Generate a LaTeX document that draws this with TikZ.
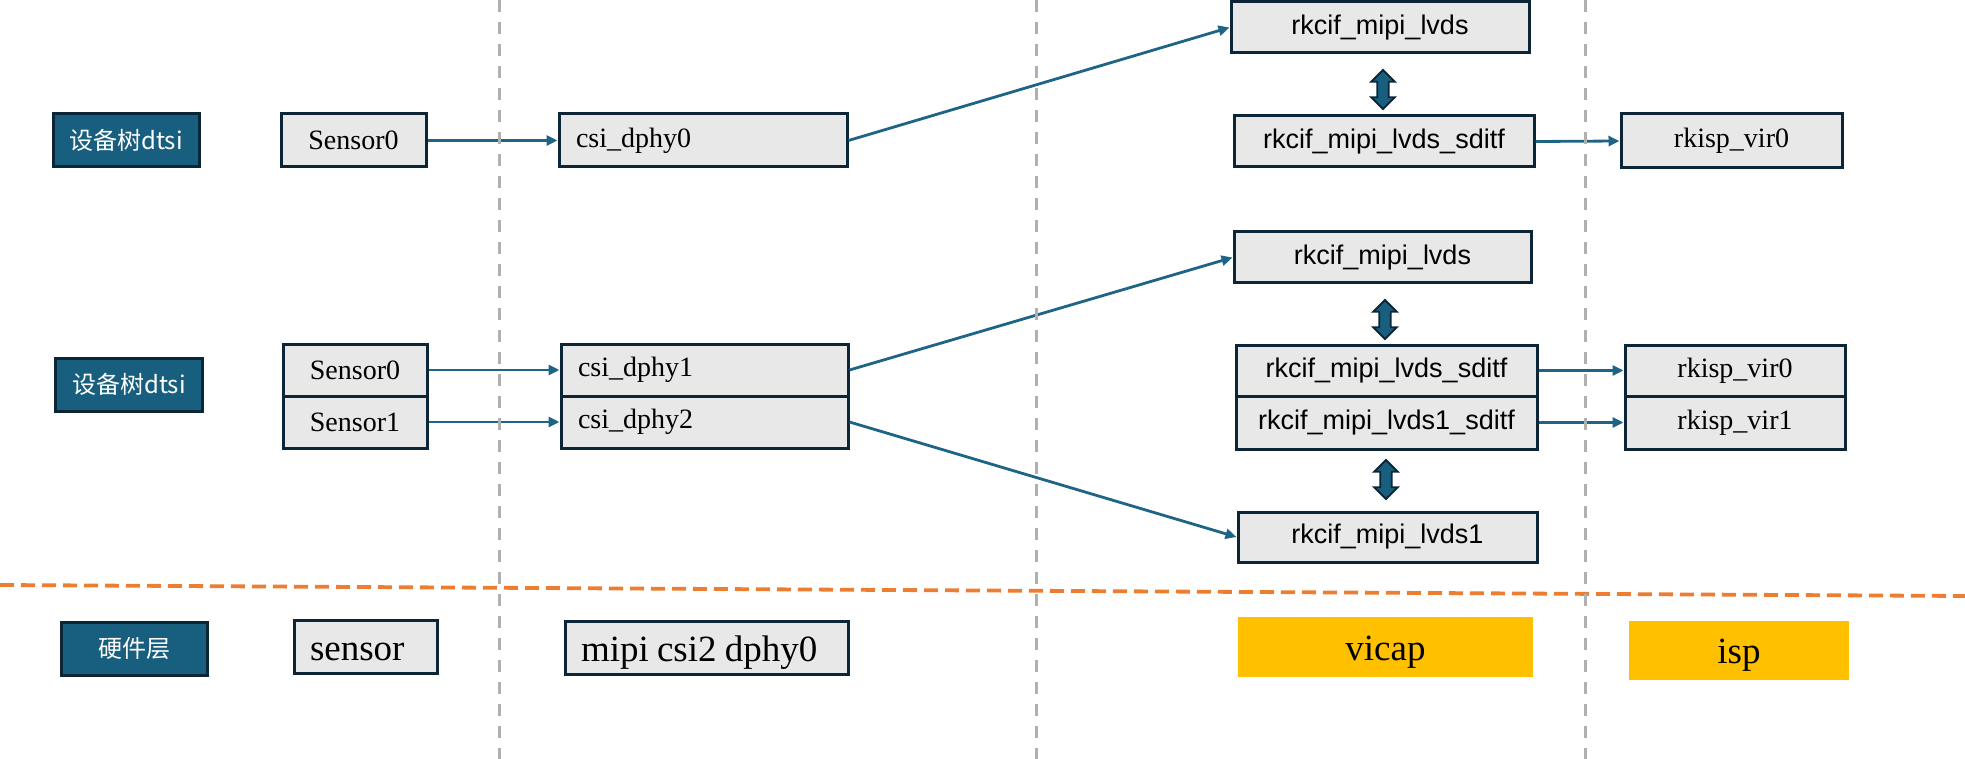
\documentclass[tikz,border=0pt]{standalone}
\usepackage{fontspec}
\setmainfont{Liberation Serif}
\newfontfamily\sansf{Liberation Sans}
\newfontfamily\cjkf{Noto Sans CJK SC}
\usetikzlibrary{arrows.meta}
\definecolor{blu}{RGB}{24,94,126}
\definecolor{bordc}{RGB}{12,38,56}
\definecolor{boxg}{RGB}{232,232,232}
\definecolor{arr}{RGB}{30,100,135}
\definecolor{orng}{RGB}{237,125,49}
\definecolor{yel}{RGB}{255,192,0}
\definecolor{gdash}{RGB}{176,176,176}
\newcommand{\lowtxt}[1]{\raisebox{-2.5pt}[\height][\depth]{#1}}
\begin{document}
\begin{tikzpicture}[x=0.5pt,y=-0.5pt,
  box/.style={draw=bordc, line width=1.5pt, fill=boxg, inner sep=0pt, font=\fontsize{14}{16}\selectfont},
  sbox/.style={box, font=\sansf\fontsize{13.5}{16}\selectfont},
  lbox/.style={box, align=left, inner xsep=8.5pt},
  bluebox/.style={draw=bordc, line width=1.5pt, fill=blu, text=white, inner sep=0pt, font=\cjkf\fontsize{12}{14}\selectfont},
  hwbox/.style={box, align=left, inner xsep=8pt, font=\fontsize{18.5}{20}\selectfont},
  ybox/.style={fill=yel, inner sep=0pt, font=\fontsize{18.5}{20}\selectfont},
  conn/.style={draw=arr, line width=1.4pt, -{Triangle[length=5.5pt,width=5pt]}},
  vdash/.style={draw=gdash, line width=1.5pt, dash pattern=on 6pt off 5pt},
  odash/.style={draw=orng, line width=1.9pt, dash pattern=on 7pt off 3.5pt},
  updown/.pic={\draw[draw=bordc, line width=0.9pt, fill=blu] (0,-19.5) -- (11.7,-7.8) -- (5.8,-7.8) -- (5.8,7.8) -- (11.7,7.8) -- (0,19.5) -- (-11.7,7.8) -- (-5.8,7.8) -- (-5.8,-7.8) -- (-11.7,-7.8) -- cycle;}
]
\useasboundingbox (0,0) rectangle (1965,759);

% Row 1
\node[bluebox, minimum width=73pt, minimum height=26.5pt] (dts1) at (126,140.5) {设备树dtsi};
\node[box, minimum width=72.5pt, minimum height=26.5pt] (s0a) at (353.5,140.5) {Sensor0};
\node[lbox, text width=127pt, minimum height=26.5pt] (csi0) at (703,140.5) {csi\_dphy0};
\node[sbox, minimum width=149pt, minimum height=25.5pt] (lvdsA) at (1380,27.5) {rkcif\_mipi\_lvds};
\node[sbox, minimum width=150pt, minimum height=25.5pt] (sditfA) at (1384,141.5) {rkcif\_mipi\_lvds\_sditf};
\node[box, minimum width=110.5pt, minimum height=27pt] (ispA) at (1731.5,141) {rkisp\_vir0};

% Row 2
\node[bluebox, minimum width=73.5pt, minimum height=26.5pt] (dts2) at (129,384.5) {设备树dtsi};
\node[box, minimum width=72pt, minimum height=26pt] (s0b) at (355,370) {Sensor0};
\node[box, minimum width=72pt, minimum height=26pt] (s1) at (355,422) {Sensor1};
\node[lbox, text width=126.5pt, minimum height=26pt] (csi1) at (704.5,370) {csi\_dphy1};
\node[lbox, text width=126.5pt, minimum height=26pt] (csi2) at (704.5,422) {csi\_dphy2};
\node[sbox, minimum width=148.5pt, minimum height=25.5pt] (lvdsB) at (1382.5,257.5) {rkcif\_mipi\_lvds};
\node[sbox, minimum width=150.5pt, minimum height=25.5pt] (sditfB) at (1386.5,370.5) {rkcif\_mipi\_lvds\_sditf};
\node[sbox, minimum width=150.5pt, minimum height=26.5pt] (sditf1) at (1386.5,422.5) {rkcif\_mipi\_lvds1\_sditf};
\node[sbox, minimum width=149.5pt, minimum height=25pt] (lvds1) at (1387.5,537) {rkcif\_mipi\_lvds1};
\node[box, minimum width=110pt, minimum height=25.5pt] (ispB0) at (1735,370.5) {rkisp\_vir0};
\node[box, minimum width=110pt, minimum height=26.5pt] (ispB1) at (1735,422.5) {rkisp\_vir1};

% Row 3
\node[bluebox, minimum width=73pt, minimum height=26.5pt] (hw) at (134,648.5) {硬件层};
\node[hwbox, text width=55.5pt, minimum height=26.5pt] (sens) at (365.5,646.5) {\lowtxt{sensor}};
\node[hwbox, text width=125.5pt, minimum height=26.5pt] (mipi) at (706.5,647.5) {\lowtxt{mipi\hspace{0.22em}csi2\hspace{0.22em}dphy0}};
\node[ybox, minimum width=147.5pt, minimum height=30pt] (vicap) at (1385.5,647) {\lowtxt{vicap}};
\node[ybox, minimum width=110pt, minimum height=29.5pt] (isp) at (1739,650.5) {\lowtxt{isp}};

% double arrows
\pic at (1383,89.5) {updown};
\pic at (1385,319.5) {updown};
\pic at (1386,479.5) {updown};

% connectors
\draw[conn] (s0a.east) -- (csi0.west);
\draw[conn] (csi0.east) -- (lvdsA.west);
\draw[conn] (sditfA.east) -- (ispA.west);
\draw[conn] (s0b.east) -- (csi1.west);
\draw[conn] (s1.east) -- (csi2.west);
\draw[conn] (csi1.east) -- (lvdsB.west);
\draw[conn] (csi2.east) -- (lvds1.west);
\draw[conn] (sditfB.east) -- (ispB0.west);
\draw[conn] (sditf1.east) -- (ispB1.west);

% separators
\draw[odash] (0,585) -- (1965,596);
\draw[vdash] (499,0) -- (499,759);
\draw[vdash] (1036,0) -- (1036,759);
\draw[vdash] (1585,0) -- (1585,759);
\end{tikzpicture}
\end{document}
